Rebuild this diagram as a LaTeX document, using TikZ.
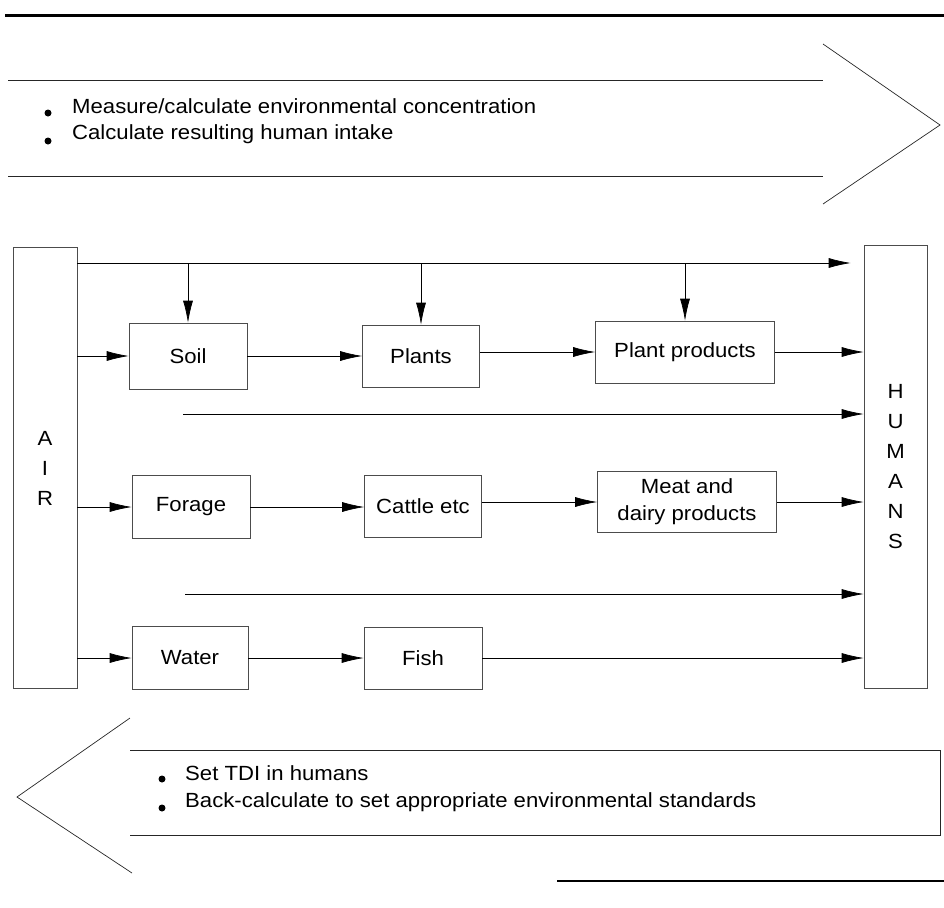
\documentclass[tikz,border=0pt]{standalone}
\usepackage{fontspec}
\setmainfont{Liberation Sans}[FakeStretch=1.08]
\usetikzlibrary{arrows.meta}
\begin{document}
\begin{tikzpicture}[x=1pt,y=-1pt,
  every node/.style={font=\fontsize{20.5}{30}\selectfont},
  box/.style={draw=black!70, line width=0.6pt, inner sep=0pt, align=center},
  arr/.style={draw=black, line width=0.7pt, -{Latex[length=22pt,width=10pt]}},
  outline/.style={draw=black!85, line width=0.7pt},
  rule/.style={draw=black, line width=3pt},
  txt/.style={anchor=west, inner sep=0pt}
]
\useasboundingbox (0,0) rectangle (944,907);

% horizontal rules
\coordinate (r1a) at (5,16);
\coordinate (r1b) at (944,16);
\draw[rule] (r1a) -- (r1b);
\coordinate (r2a) at (557,881);
\coordinate (r2b) at (944,881);
\draw[rule, line width=2.5pt] (r2a) -- (r2b);

% top big arrow (forward)
\draw[outline] (8,80) -- (823,80);
\draw[outline] (8,176) -- (823,176);
\draw[outline] (823,44) -- (940,125) -- (823,204);
\fill (48,113) circle (3.5pt);
\fill (48,141) circle (3.5pt);
\node[txt] (t1) at (72,106) {Measure/calculate environmental concentration};
\node[txt] (t2) at (72,134) {Calculate resulting human intake};

% bottom big arrow (backward)
\draw[outline] (130,718) -- (17,797) -- (132,873);
\draw[outline] (130,750) -- (940,750) -- (940,835) -- (130,835);
\fill (162,779) circle (3.5pt);
\fill (162,808) circle (3.5pt);
\node[txt] (b1) at (185,773) {Set TDI in humans};
\node[txt] (b2) at (185,802) {Back-calculate to set appropriate environmental standards};

% side boxes
\node[box, minimum width=64pt, minimum height=441pt] (air) at (45,468) {A\\I\\R};
\node[box, minimum width=63pt, minimum height=443pt] (humans) at (895.5,466.5) {H\\U\\M\\A\\N\\S};

% inner boxes
\node[box, minimum width=118pt, minimum height=66pt] (soil) at (188,356) {Soil};
\node[box, minimum width=117pt, minimum height=62pt] (plants) at (421,356) {Plants};
\node[box, minimum width=179pt, minimum height=62pt] (pp) at (685,352) {Plant products};
\node[box, minimum width=118pt, minimum height=63pt] (forage) at (191,507) {Forage};
\node[box, minimum width=117pt, minimum height=62pt] (cattle) at (423,506) {Cattle etc};
\node[box, minimum width=179pt, minimum height=61pt, font=\fontsize{20.5}{27}\selectfont] (meat) at (687,502) {Meat and\\dairy products};
\node[box, minimum width=116pt, minimum height=63pt] (water) at (190,658) {Water};
\node[box, minimum width=118pt, minimum height=62pt] (fish) at (423,658) {Fish};

% top air line and drops
\coordinate (ty) at (0,263);
\draw[arr, shorten >=13pt] (air.east |- ty) -- (humans.west |- ty);
\draw[arr] (soil.north |- ty) -- (soil.north);
\draw[arr] (plants.north |- ty) -- (plants.north);
\draw[arr] (pp.north |- ty) -- (pp.north);

% row 1
\draw[arr] (air.east |- soil) -- (soil.west);
\draw[arr] (soil.east) -- (plants.west |- soil.east);
\draw[arr] (plants.east |- pp.west) -- (pp.west);
\draw[arr] (pp.east) -- (humans.west |- pp.east);

% direct line 1
\coordinate (d1) at (183,414);
\draw[arr] (d1) -- (humans.west |- d1);

% row 2
\draw[arr] (air.east |- forage) -- (forage.west);
\draw[arr] (forage.east) -- (cattle.west |- forage.east);
\draw[arr] (cattle.east |- meat.west) -- (meat.west);
\draw[arr] (meat.east) -- (humans.west |- meat.east);

% direct line 2
\coordinate (d2) at (185,594);
\draw[arr] (d2) -- (humans.west |- d2);

% row 3
\draw[arr] (air.east |- water) -- (water.west);
\draw[arr] (water.east) -- (fish.west |- water.east);
\draw[arr] (fish.east) -- (humans.west |- fish.east);
\end{tikzpicture}
\end{document}
